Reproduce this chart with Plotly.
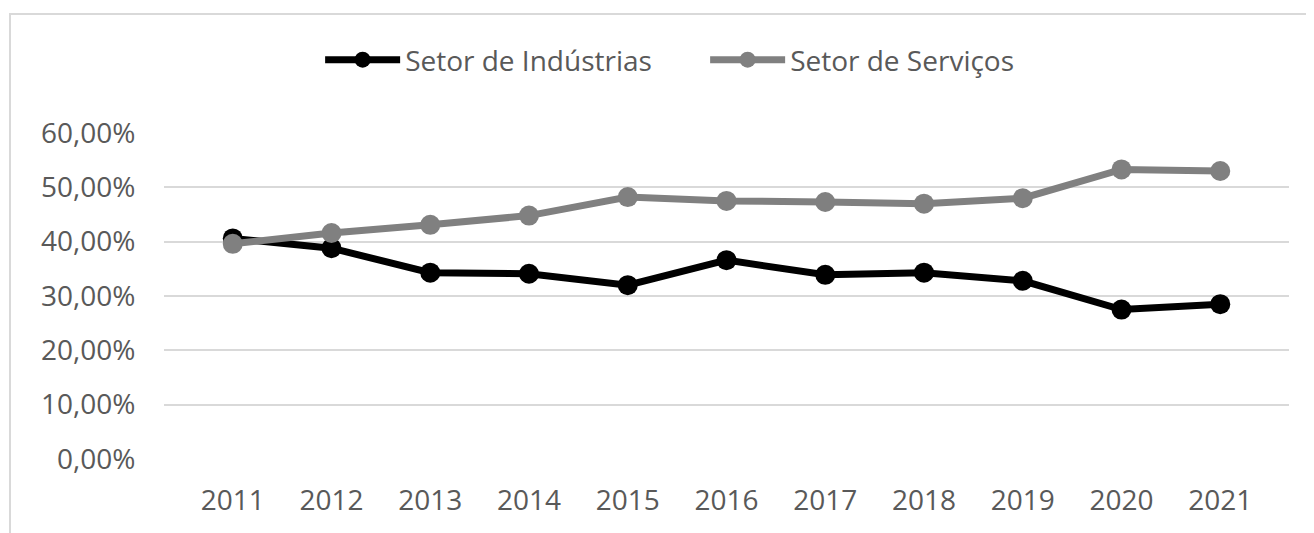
import plotly.graph_objects as go

years = ["2011", "2012", "2013", "2014", "2015", "2016", "2017", "2018", "2019", "2020", "2021"]
industria = [0.406, 0.388, 0.343, 0.341, 0.320, 0.366, 0.339, 0.343, 0.328, 0.275, 0.285]
servicos = [0.396, 0.416, 0.431, 0.448, 0.482, 0.475, 0.473, 0.470, 0.480, 0.533, 0.530]
names = ["Setor de Indústrias", "Setor de Serviços"]
colors = ["#000000", "#808080"]

FONT = "Open Sans, sans-serif"
TXT = "#595959"

fig = go.Figure()
for name, vals, col in zip(names, [industria, servicos], colors):
    fig.add_trace(go.Scatter(
        x=years, y=vals, name=name, mode="lines+markers",
        line=dict(color=col, width=7),
        marker=dict(color=col, size=20),
    ))

fig.update_layout(
    width=1306, height=525,
    margin=dict(l=156, r=25, t=125, b=74),
    plot_bgcolor="white", paper_bgcolor="white",
    separators=",.",
    font=dict(family=FONT, color=TXT, size=28),
    showlegend=True,
    legend=dict(orientation="h", x=0.481, xanchor="center", y=1.224, yanchor="middle",
                font=dict(size=28, color=TXT), itemwidth=75, traceorder="normal",
                entrywidth=295, entrywidthmode="pixels"),
    xaxis=dict(type="category", showgrid=False, showline=False, zeroline=False,
               ticks="outside", ticklen=16, tickcolor="white",
               tickfont=dict(size=28, color=TXT)),
    yaxis=dict(range=[0, 0.6], dtick=0.1, tickformat=".2%", showgrid=True,
               gridcolor="#d9d9d9", gridwidth=2, zeroline=False, showline=False,
               ticks="outside", ticklen=22, tickcolor="white",
               tickfont=dict(size=28, color=TXT)),
    shapes=[dict(type="rect", xref="paper", yref="paper",
                 x0=-0.1369, x1=1.2, y0=-0.4, y1=1.365,
                 line=dict(color="#d9d9d9", width=2), layer="below")],
)

fig.write_html("out.html")
